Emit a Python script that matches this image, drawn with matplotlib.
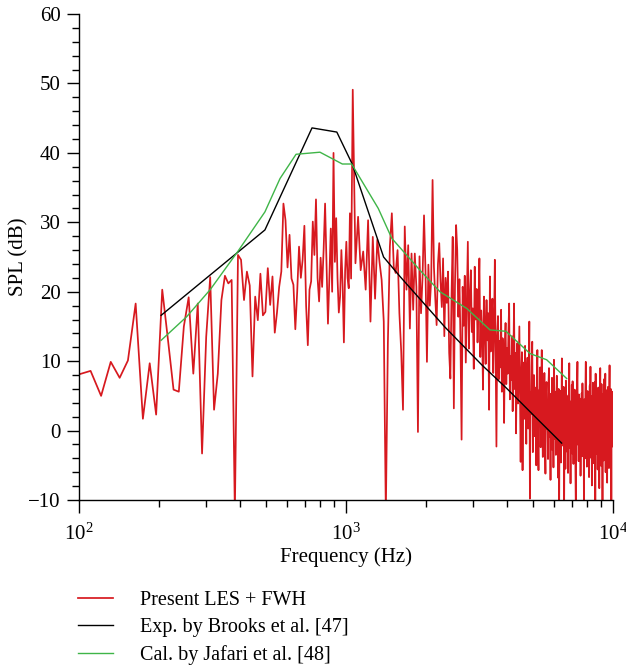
import numpy as np
import matplotlib
matplotlib.use('Agg')
import matplotlib.pyplot as plt
from matplotlib.ticker import MultipleLocator, LogLocator, NullFormatter, LogFormatterMathtext

plt.rcParams['font.family'] = 'serif'
plt.rcParams['font.serif'] = ['Liberation Serif', 'DejaVu Serif']
plt.rcParams['mathtext.fontset'] = 'custom'
plt.rcParams['mathtext.rm'] = 'Liberation Serif'
plt.rcParams['mathtext.it'] = 'Liberation Serif:italic'

# Present LES + FWH, narrow-band spectrum (bins)
les_f0_low, les_df_low = 100.0, 10.5
les_spl_low = [
    8.1, 8.6, 5.0, 9.9, 7.6, 10.1, 18.3, 1.7, 9.7, 2.3, 20.3,
    13.0, 5.9, 5.6, 15.0, 19.2, 8.2, 18.3, -3.3, 13.5, 22.1,
    3.0, 8.2, 18.8, 22.3, 21.2, 21.7, -12.0, 25.3, 24.6, 18.8,
    22.9, 20.9, 7.8, 19.3, 15.9, 22.6, 16.6, 17.1, 23.4, 18.1,
    22.2, 14.1, 17.0, 20.7, 22.9, 32.7, 30.3, 23.5, 28.2, 21.9,
    21.0, 14.6, 20.0, 26.5, 22.0, 24.6, 29.5, 18.0, 12.3, 20.3,
    21.5, 30.1, 25.3, 33.3, 22.0, 18.6, 24.9, 20.7, 26.0, 32.7,
    24.0, 15.4, 22.0, 29.1, 20.0, 40.0, 24.3, 30.6, 22.0, 17.0,
    19.3, 26.0, 21.0, 12.7, 23.0, 27.2, 22.0, 20.5, 31.3, 21.9,
]
les_f0_high, les_df_high = 1060.0, 25.0
les_spl_high = [
    49.1, 24.1, 30.8, 23.1, 25.8, 20.3, 30.3, 15.7, 27.9, 19.0,
    27.5, 24.3, 21.7, 15.7, -12.0, 12.6, 26.5, 31.3, 23.6, 22.7,
    26.0, 16.9, 11.4, 3.0, 29.4, 20.3, 26.7, 14.7, 25.5, 17.4,
    25.5, 20.7, -0.2, 25.1, 16.9, 22.0, 31.0, 23.1, 9.9, 23.9,
    18.0, 21.7, 36.1, 23.6, 19.0, 15.2, 24.0, 27.0,
    21.5, 17.8, 24.8, 13.6, 22.0, 18.4, 22.9, 11.2, 7.5, 19.6,
    27.9, 3.2, 21.0, 29.6, 26.0, 16.4, 21.8, 12.5, -1.3, 20.7,
    15.1, 22.3, 9.8, 18.7, 27.2, 11.8, 19.5, 23.1, 14.2, 17.6,
    8.9, 23.6, 16.0, 20.4, 12.7, 18.2, 24.8, 10.6, 17.3, 14.1,
    5.9, 19.3, 15.4, 9.6, 18.8, 13.0, 16.9, 3.0, 22.2, 11.4,
    15.8, 19.0, 8.3, 14.6, 24.6, 10.2, -2.3, 13.7, 16.5, 7.4,
    12.9, 9.1, 17.4, 5.6, 13.3, 10.8, 1.1, 12.1, 15.5, 6.7,
    11.9, 8.2, 14.4, 18.3, 4.5, 10.7, 7.3, 13.6, 2.8, 9.9,
    18.3, 6.0, 11.2, -0.4, 8.7, 12.6, 3.9, 9.4, 15.0, 5.2,
    -4.5, 8.1, 11.3, -5.7, 6.4, 9.8, 1.7, 12.2, 4.6, -1.9,
    7.8, 10.5, 0.3, 6.9, 15.7, -9.8, 5.5, 2.4, 9.3, 12.8,
    -3.1, 4.7, 8.0, -0.8, 6.2, 2.9, -5.0, 7.5, 11.6, 1.2,
    -5.7, 5.8, 3.4, 9.1, -2.4, 4.3, 11.6, 0.6, -3.8, 6.5,
    2.1, 8.3, -1.5, -6.2, 4.9, 7.0, 0.2, 3.6, -4.1, 6.8,
    9.0, -0.9, 2.7, -7.1, 5.3, 1.4, 7.6, -2.8, 3.9, -5.3,
    10.2, 1.8, -1.2, 5.6, -3.5, 4.1, 7.9, -0.4, 2.5, -6.8,
    6.0, -12.0, 3.2, 0.9, 5.7, -4.6, 2.0, 10.4, -1.8, 4.4,
    -2.2, 6.3, -12.0, 1.1, 3.8, -5.5, 7.2, 0.4, -3.0, 4.8,
    1.6, -6.1, 5.1, 2.3, 9.7, -2.5, 3.0, -7.6, 4.2, 0.1,
    6.6, -3.3, 7.1, 1.9, -4.8, 3.5, -0.7, 5.9, 2.6, -5.9,
    -12.0, 4.0, 0.8, 6.4, 9.9, -2.0, 3.3, -4.4, 5.2, 1.3,
    -1.6, 4.6, -6.5, 2.8, 0.0, 5.4, -3.7, 6.8, 1.5, -2.9,
    3.7, -12.0, 4.5, 0.7, -4.0, 6.1, 9.9, -1.1, 2.4, -5.2,
    3.1, 5.7, -2.6, 1.0, 4.3, -6.7, 2.2, 6.5, -0.5, 9.2,
    -3.9, 1.8, 5.0, -7.9, 3.4, -1.3, 6.9, 0.5, -4.7, 2.9,
    4.9, -2.1, 7.0, -12.0, 8.2, 1.2, -3.4, 4.1, 0.3, 5.5,
    -5.6, 2.7, 6.2, -1.7, 3.6, -8.3, 4.4, 1.4, 9.0, -2.7,
    2.0, -5.1, 6.7, 0.9, 3.9, -12.0, 5.3, -0.2, 2.5, -4.3,
    7.4, 1.7, -2.4, 4.7, 8.2, -6.0, 3.0, 0.6, 5.8, -3.6,
    -7.5, 4.0, 1.6, 6.3, -1.4, 2.8, -5.4, 5.1, 9.4, -0.8,
    3.3, -3.1, 6.0, 1.0, -12.0, 4.2, 2.3, -2.3, 5.6, 0.8,
]

# Exp. by Brooks et al.
brooks_f = [203, 497, 746, 924, 1055, 1383, 1593, 2348, 3238, 3994, 5325, 6420]
brooks_spl = [16.6, 28.9, 43.6, 43.0, 38.4, 25.0, 22.2, 14.9, 9.4, 6.1, 1.3, -1.8]

# Cal. by Jafari et al.
jafari_f = [203, 253, 310, 395, 497, 566, 650, 799, 969, 1050, 1321, 1484,
            1893, 2249, 2832, 3462, 3975, 4888, 5644, 6708]
jafari_spl = [13.0, 16.4, 20.3, 25.9, 31.5, 36.3, 39.8, 40.1, 38.4, 38.4, 32.0, 27.7,
              23.1, 20.0, 17.6, 14.5, 14.3, 11.1, 10.2, 7.5]

les_f = np.concatenate([les_f0_low + les_df_low * np.arange(len(les_spl_low)),
                        les_f0_high + les_df_high * np.arange(len(les_spl_high))])
les_spl = np.array(les_spl_low + les_spl_high)

fig = plt.figure(figsize=(6.26, 6.69), dpi=100)
ax = fig.add_axes([0.1262, 0.2526, 0.853, 0.7264])

l1, = ax.plot(les_f, les_spl, color='#d7191f', lw=1.25)
l2, = ax.plot(brooks_f, brooks_spl, color='black', lw=1.0)
l3, = ax.plot(jafari_f, jafari_spl, color='#3fb548', lw=1.0)

ax.set_xscale('log')
ax.set_xlim(100, 10000)
ax.set_ylim(-10, 60)
ax.yaxis.set_major_locator(MultipleLocator(10))
ax.yaxis.set_minor_locator(MultipleLocator(2))
ax.xaxis.set_major_locator(LogLocator(base=10))
ax.xaxis.set_major_formatter(LogFormatterMathtext())
ax.xaxis.set_minor_locator(LogLocator(base=10, subs=np.arange(2, 10)))
ax.xaxis.set_minor_formatter(NullFormatter())

for s in ['top', 'right']:
    ax.spines[s].set_visible(False)
for s in ['left', 'bottom']:
    ax.spines[s].set_linewidth(1.0)
ax.tick_params(which='major', direction='out', length=9, width=1.0, labelsize=15, pad=4)
ax.tick_params(axis='x', which='major', pad=8)
ax.tick_params(which='minor', direction='out', length=5, width=1.0)

ax.set_xlabel('Frequency (Hz)', fontsize=15, labelpad=2)
ax.set_ylabel('SPL (dB)', fontsize=15, labelpad=0)

fig.legend([l1, l2, l3],
           ['Present LES + FWH', 'Exp. by Brooks et al. [47]', 'Cal. by Jafari et al. [48]'],
           loc='upper left', bbox_to_anchor=(0.1246, 0.116), frameon=False,
           fontsize=14.5, handlelength=1.75, handletextpad=1.35, labelspacing=0.39,
           borderpad=0, borderaxespad=0)

fig.savefig('out.png', dpi=100)
